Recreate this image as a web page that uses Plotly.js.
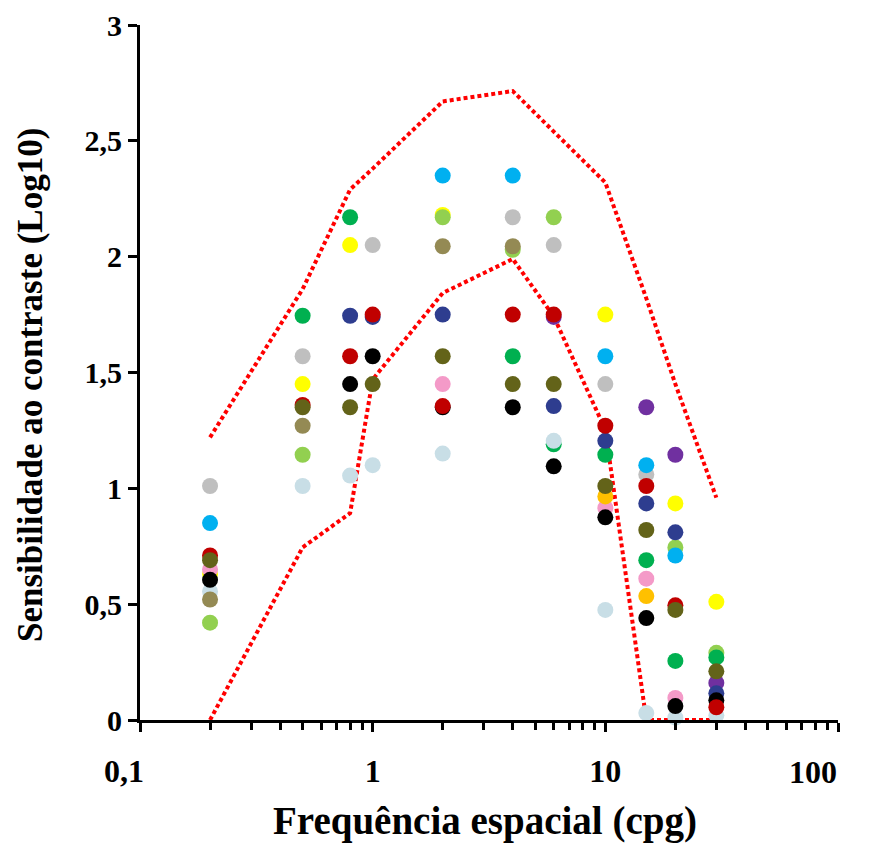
<!DOCTYPE html>
<html>
<head>
<meta charset="utf-8">
<script src="https://cdn.plot.ly/plotly-3.0.1.min.js"></script>
<style>html,body{margin:0;padding:0;background:#fff;}#chart{width:869px;height:845px;}</style>
</head>
<body>
<div id="chart"></div>
<script>
// Spatial frequencies (cpg)
const freq = [0.2, 0.5, 0.8, 1, 2, 4, 6, 10, 15, 20, 30];

// Individual subject values (log10 contrast sensitivity), null = no point
const yellowVals     = [0.63, 1.45, 2.05, null, 2.18, null, null, 1.75, null, 0.935, 0.51];
const lightGreenVals = [0.42, 1.145, null, null, 2.17, 2.03, 2.17, null, null, 0.745, 0.29];
const pinkVals       = [0.65, null, null, null, 1.45, null, null, 0.915, 0.61, 0.095, null];
const purpleVals     = [null, null, null, null, null, null, 1.74, null, 1.35, 1.145, 0.16];
const greenVals      = [null, 1.745, 2.17, null, null, 1.57, 1.19, 1.145, 0.69, 0.255, 0.27];
const lightBlueVals  = [0.555, 1.01, 1.055, 1.10, 1.15, null, 1.205, 0.475, 0.03, 0.01, 0.02];
const khakiVals      = [0.52, 1.27, null, null, 2.045, 2.045, null, null, null, null, null];
const grayVals       = [1.01, 1.57, null, 2.05, null, 2.17, 2.05, 1.45, 1.06, null, null];
const cyanVals       = [0.85, null, null, null, 2.35, 2.35, null, 1.57, 1.10, 0.71, null];
const darkBlueVals   = [null, null, 1.745, 1.74, 1.75, null, 1.355, 1.205, 0.935, 0.81, 0.115];
const blackVals      = [0.605, null, 1.45, 1.57, 1.35, 1.35, 1.095, 0.875, 0.44, 0.06, 0.085];
const redVals        = [0.71, 1.36, 1.57, 1.75, 1.355, 1.75, 1.75, 1.27, 1.01, 0.495, 0.055];
const orangeVals     = [null, null, null, null, null, null, null, 0.965, 0.535, null, null];
const oliveVals      = [0.69, 1.35, 1.35, 1.45, 1.57, 1.45, 1.45, 1.01, 0.82, 0.475, 0.21];

// Normative limits
const upperLimit = [1.22, 1.86, 2.29, 2.38, 2.67, 2.715, 2.54, 2.32, 1.82, 1.45, 0.96];
const lowerLimit = [0.0, 0.745, 0.893, 1.47, 1.843, 1.99, 1.742, 1.253, 0.0, 0.0, 0.0];

// Axis ticks and labels
const xTickVals = [0.1, 1, 10, 100];
const xTickText = ['0,1\u00A0\u00A0\u00A0\u00A0', '1', '10', ''];
const xLastLabel = '100';
const yTickVals = [0, 0.5, 1, 1.5, 2, 2.5, 3];
const yTickText = ['0', '0,5', '1', '1,5', '2', '2,5', '3'];
const xTitle = 'Frequência espacial (cpg)';
const yTitle = 'Sensibilidade ao contraste (Log10)';

const series = [
  [yellowVals, '#FFFF00'],
  [lightGreenVals, '#92D050'],
  [pinkVals, '#F49AC8'],
  [purpleVals, '#7030A0'],
  [greenVals, '#00B050'],
  [lightBlueVals, '#C8DEE6'],
  [khakiVals, '#948A54'],
  [grayVals, '#BFBFBF'],
  [cyanVals, '#00B0F0'],
  [darkBlueVals, '#2E3D8F'],
  [blackVals, '#000000'],
  [redVals, '#C00000'],
  [orangeVals, '#FFC000'],
  [oliveVals, '#636319']
];

const traces = [];
[upperLimit, lowerLimit].forEach(function (lim) {
  traces.push({
    x: freq, y: lim, type: 'scatter', mode: 'lines',
    line: {color: '#FF0000', width: 4, dash: '4px,3px'},
    hoverinfo: 'skip', cliponaxis: false
  });
});
series.forEach(function (s) {
  traces.push({
    x: freq, y: s[0], type: 'scatter', mode: 'markers',
    marker: {color: s[1], size: 16, line: {width: 0}},
    cliponaxis: false
  });
});

const fontFam = '"Liberation Serif", "Times New Roman", serif';

const layout = {
  width: 869, height: 845,
  margin: {l: 140, r: 31, t: 25, b: 125},
  paper_bgcolor: '#fff', plot_bgcolor: '#fff',
  showlegend: false,
  font: {family: fontFam, color: '#000', size: 28, weight: 'bold'},
  xaxis: {
    type: 'log', range: [-1, 2],
    tickmode: 'array', tickvals: xTickVals, ticktext: xTickText,
    showgrid: false, zeroline: false,
    showline: true, linewidth: 3, linecolor: '#000',
    ticks: 'outside', ticklen: 9, tickwidth: 3, tickcolor: '#000',
    ticklabelstandoff: 12,
    minor: {dtick: 'D1', ticks: 'outside', ticklen: 7, tickwidth: 3, tickcolor: '#000', showgrid: false},
    tickfont: {family: fontFam, size: 32, weight: 'bold', color: '#000'}
  },
  yaxis: {
    range: [0, 3],
    tickmode: 'array', tickvals: yTickVals, ticktext: yTickText,
    showgrid: false, zeroline: false,
    showline: true, linewidth: 3, linecolor: '#000',
    ticks: 'outside', ticklen: 9, tickwidth: 3, tickcolor: '#000',
    tickfont: {family: fontFam, size: 30, weight: 'bold', color: '#000'}
  },
  annotations: [
    {
      text: xLastLabel, xref: 'paper', yref: 'paper',
      x: 1, y: -(772 - 720) / 695,
      xanchor: 'right', yanchor: 'middle', showarrow: false, borderpad: 0,
      font: {family: fontFam, size: 32, weight: 'bold', color: '#000'}
    },
    {
      text: xTitle, xref: 'paper', yref: 'paper',
      x: (485 - 140) / 698, y: -(844 - 720) / 695,
      xanchor: 'center', yanchor: 'bottom', showarrow: false, borderpad: 0,
      font: {family: fontFam, size: 39, weight: 'bold', color: '#000'}
    },
    {
      text: yTitle, xref: 'paper', yref: 'paper', textangle: -90,
      x: (30 - 140) / 698, y: (720 - 385) / 695,
      xanchor: 'center', yanchor: 'middle', showarrow: false,
      font: {family: fontFam, size: 35, weight: 'bold', color: '#000'}
    }
  ]
};

Plotly.newPlot('chart', traces, layout, {displayModeBar: false, staticPlot: true});
</script>
</body>
</html>
